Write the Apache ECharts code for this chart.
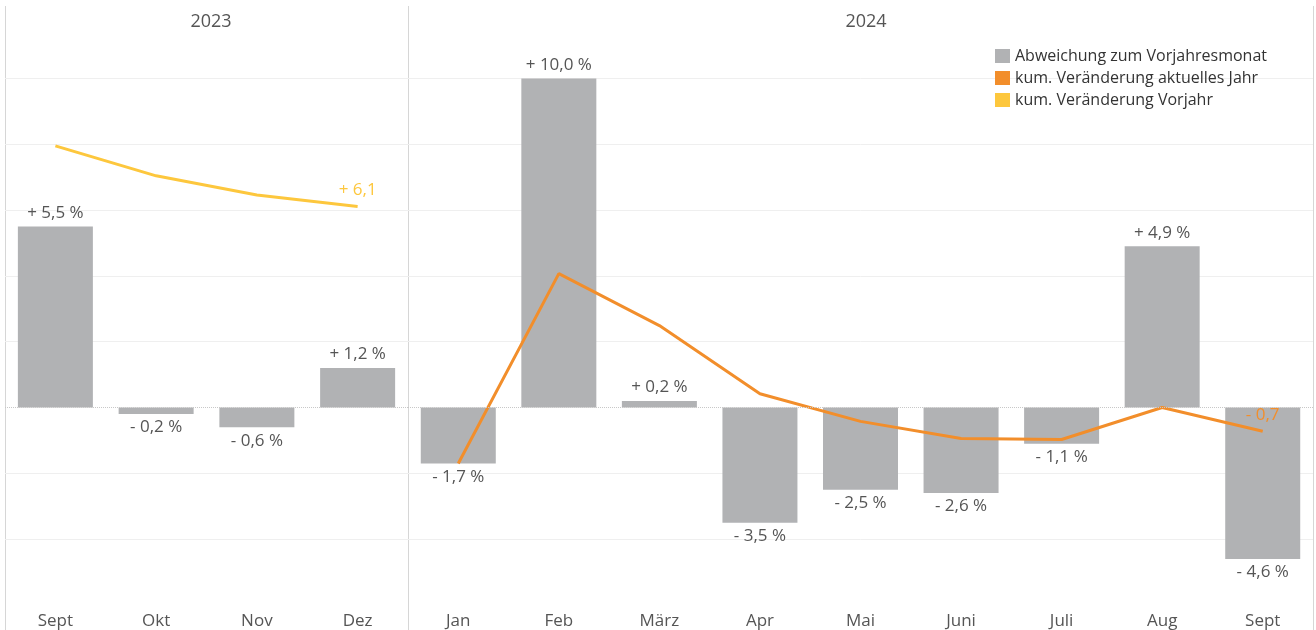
<!DOCTYPE html>
<html>
<head>
<meta charset="utf-8">
<script src="https://cdn.jsdelivr.net/npm/echarts@6/dist/echarts.min.js"></script>
<style>
html,body{margin:0;padding:0;background:#fff;}
#chart{width:1316px;height:630px;}
</style>
</head>
<body>
<div id="chart"></div>
<script>
// ---- data ----
var years = ['2023', '2024'];
var months2023 = ['Sept', 'Okt', 'Nov', 'Dez'];
var months2024 = ['Jan', 'Feb', 'März', 'Apr', 'Mai', 'Juni', 'Juli', 'Aug', 'Sept'];
var devi2023 = [5.5, -0.2, -0.6, 1.2];
var devi2024 = [-1.7, 10.0, 0.2, -3.5, -2.5, -2.6, -1.1, 4.9, -4.6];
var cumPrev2023 = [7.95, 7.04, 6.46, 6.11];
var cumCur2024 = [-1.7, 4.07, 2.49, 0.42, -0.42, -0.94, -0.97, 0.0, -0.72];
var seriesNames = ['Abweichung zum Vorjahresmonat', 'kum. Veränderung aktuelles Jahr', 'kum. Veränderung Vorjahr'];

var FONT = '"Open Sans", sans-serif';
var TXT = '#555555';
var GREY = '#b1b2b4';
var ORANGE = '#f28e2b';
var YELLOW = '#fdc73d';

function fmt(v, pct) {
  var s = (v >= 0 ? '+ ' : '- ') + Math.abs(v).toFixed(1).replace('.', ',');
  return pct ? s + ' %' : s;
}
function barData(arr) {
  return arr.map(function (v) {
    return { value: v, label: { position: v < 0 ? 'bottom' : 'top' } };
  });
}
function lineData(arr, color) {
  return arr.map(function (v, i) {
    var last = i === arr.length - 1;
    return {
      value: v,
      label: {
        show: last, position: 'top', distance: 8, color: color,
        fontSize: 17, fontFamily: FONT,
        formatter: function (p) { return fmt(p.value, false); }
      }
    };
  });
}

var gridTop = 12.6, gridH = 593.1;
var splitColors = ['rgba(0,0,0,0)', '#efefef', '#efefef', 'rgba(0,0,0,0)', '#efefef', '#efefef', '#efefef', '#efefef', '#efefef', 'rgba(0,0,0,0)'];

function yAx(gi) {
  return {
    type: 'value', gridIndex: gi, min: -6, max: 12, interval: 2,
    axisLabel: { show: false }, axisLine: { show: false }, axisTick: { show: false },
    splitLine: { show: true, lineStyle: { color: splitColors, width: 1 } }
  };
}
function xAx(gi, cats) {
  return {
    type: 'category', gridIndex: gi, data: cats,
    axisLine: { show: false }, axisTick: { show: false },
    axisLabel: { color: TXT, fontSize: 17, fontFamily: FONT, margin: 8 }
  };
}
var barLabel = {
  show: true, color: TXT, fontSize: 17, fontFamily: FONT, distance: 5,
  formatter: function (p) { return fmt(p.value, true); }
};
var zeroLine = {
  silent: true, symbol: 'none', label: { show: false },
  lineStyle: { color: '#c8c8c8', type: 'dotted', width: 1 },
  data: [{ yAxis: 0 }]
};

var chart = echarts.init(document.getElementById('chart'), null, { renderer: 'canvas' });
chart.setOption({
  backgroundColor: '#ffffff',
  animation: false,
  title: [
    { text: years[0], left: 206, top: 8, textAlign: 'center', textStyle: { color: TXT, fontSize: 18, fontWeight: 'normal', fontFamily: FONT } },
    { text: years[1], left: 861, top: 8, textAlign: 'center', textStyle: { color: TXT, fontSize: 18, fontWeight: 'normal', fontFamily: FONT } }
  ],
  legend: {
    orient: 'vertical', left: 990, top: 43, itemWidth: 15, itemHeight: 14, itemGap: 6,
    icon: 'rect',
    textStyle: { color: '#333', fontSize: 16, fontFamily: FONT },
    data: seriesNames
  },
  grid: [
    { left: 5, width: 403, top: gridTop, height: gridH },
    { left: 408, width: 905, top: gridTop, height: gridH }
  ],
  xAxis: [xAx(0, months2023), xAx(1, months2024)],
  yAxis: [yAx(0), yAx(1)],
  graphic: [
    { type: 'line', shape: { x1: 5.5, y1: 6, x2: 5.5, y2: 630 }, style: { stroke: '#d6d6d6', lineWidth: 1 }, z: 0 },
    { type: 'line', shape: { x1: 408.5, y1: 6, x2: 408.5, y2: 630 }, style: { stroke: '#d6d6d6', lineWidth: 1 }, z: 0 },
    { type: 'line', shape: { x1: 1313.5, y1: 6, x2: 1313.5, y2: 630 }, style: { stroke: '#d6d6d6', lineWidth: 1 }, z: 0 }
  ],
  series: [
    {
      name: seriesNames[0], type: 'bar', xAxisIndex: 0, yAxisIndex: 0, barWidth: 75,
      itemStyle: { color: GREY }, label: barLabel, data: barData(devi2023), markLine: zeroLine, z: 2
    },
    {
      name: seriesNames[0], type: 'bar', xAxisIndex: 1, yAxisIndex: 1, barWidth: 75,
      itemStyle: { color: GREY }, label: barLabel, data: barData(devi2024), markLine: zeroLine, z: 2
    },
    {
      name: seriesNames[1], type: 'line', xAxisIndex: 1, yAxisIndex: 1,
      showSymbol: true, symbol: 'circle', symbolSize: 0,
      lineStyle: { color: ORANGE, width: 3 }, itemStyle: { color: ORANGE },
      data: lineData(cumCur2024, ORANGE), z: 3
    },
    {
      name: seriesNames[2], type: 'line', xAxisIndex: 0, yAxisIndex: 0,
      showSymbol: true, symbol: 'circle', symbolSize: 0,
      lineStyle: { color: YELLOW, width: 3 }, itemStyle: { color: YELLOW },
      data: lineData(cumPrev2023, YELLOW), z: 3
    }
  ]
});
</script>
</body>
</html>
